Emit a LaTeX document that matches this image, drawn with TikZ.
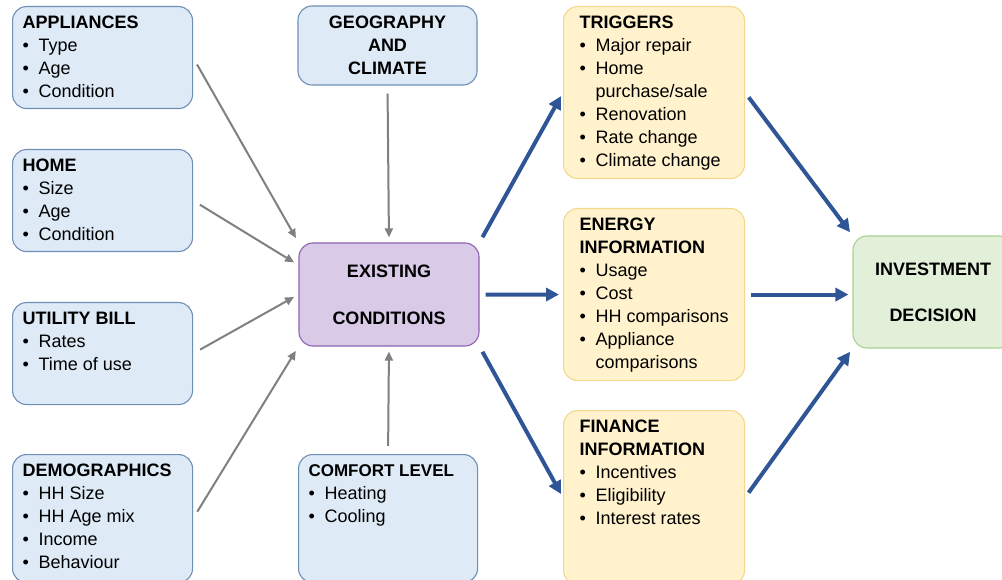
\documentclass[tikz,border=0pt]{standalone}
\usepackage{fontspec}
\setmainfont{Liberation Sans}
\usetikzlibrary{arrows.meta, positioning}

\definecolor{factorfill}{HTML}{DEEBF7}
\definecolor{factorline}{HTML}{6F8FB6}
\definecolor{statefill}{HTML}{D9CAE8}
\definecolor{stateline}{HTML}{8E62B0}
\definecolor{infofill}{HTML}{FFF2CC}
\definecolor{infoline}{HTML}{F3D98E}
\definecolor{decfill}{HTML}{E2F0D9}
\definecolor{decline}{HTML}{A9D18E}
\definecolor{flowblue}{HTML}{2F5597}
\definecolor{flowgray}{HTML}{808080}

\newcommand{\itemline}[1]{\makebox[16pt][l]{\textbullet}#1}
\newcommand{\boxbody}[4][0pt]{\parbox[c][#3][t]{#2}{\leftskip=#1\relax\strut#4}}

\tikzset{
	box/.style = {rounded corners=14pt, line width=1.1pt, inner ysep=6pt, anchor=north west,
		font=\fontsize{18}{23}\selectfont},
	factor/.style = {box, draw=factorline, fill=factorfill, inner xsep=10pt},
	info/.style = {box, draw=infoline, fill=infofill, inner xsep=8pt},
	centerbox/.style = {box, anchor=center, align=center, inner sep=0pt},
	state/.style = {centerbox, draw=stateline, fill=statefill},
	decision/.style = {centerbox, draw=decline, fill=decfill},
	grayflow/.style = {draw=flowgray, line width=2pt, -{Triangle[length=9pt, width=8pt]},
		shorten <=8pt, shorten >=5pt},
	blueflow/.style = {draw=flowblue, line width=4pt, -{Triangle[length=13pt, width=13pt]},
		shorten <=6pt, shorten >=4pt}
}

\begin{document}
\begin{tikzpicture}[x=1pt, y=-1pt]
	\useasboundingbox (0,0) rectangle (1002,580);

	% influencing factors
	\node[factor] (appl) at (12,6) {\boxbody{160pt}{90pt}{\textbf{APPLIANCES}\\
		\itemline{Type}\\ \itemline{Age}\\ \itemline{Condition}}};
	\node[factor] (home) at (12,149) {\boxbody{160pt}{90pt}{\textbf{HOME}\\
		\itemline{Size}\\ \itemline{Age}\\ \itemline{Condition}}};
	\node[factor] (util) at (12,302) {\boxbody{160pt}{90pt}{\textbf{UTILITY BILL}\\
		\itemline{Rates}\\ \itemline{Time of use}}};
	\node[factor] (demo) at (12,454) {\boxbody{160pt}{116pt}{\textbf{DEMOGRAPHICS}\\
		\itemline{HH Size}\\ \itemline{HH Age mix}\\ \itemline{Income}\\ \itemline{Behaviour}}};
	\node[factor] (comfort) at (298,454) {\boxbody{159pt}{116pt}{{\fontsize{17}{23}\selectfont\textbf{COMFORT LEVEL}}\\
		\itemline{Heating}\\ \itemline{Cooling}}};
	\node[factor, centerbox, minimum width=179pt, minimum height=79pt] (geo) at (387.5,45.5)
		{\fontsize{18}{24}\selectfont\textbf{GEOGRAPHY}\\ \textbf{AND}\\ \textbf{CLIMATE}};

	\node[state, minimum width=180pt, minimum height=103pt] (exist) at (389,294.5)
		{\textbf{EXISTING}\\[24pt] \textbf{CONDITIONS}};

	% information
	\node[info] (trig) at (563,6) {\boxbody[8pt]{165pt}{160pt}{\textbf{TRIGGERS}\\
		\itemline{Major repair}\\ \itemline{Home}\\ \hspace*{16pt}purchase/sale\\
		\itemline{Renovation}\\ \itemline{Rate change}\\ \itemline{Climate change}}};
	\node[info] (energy) at (563,208) {\boxbody[8pt]{165pt}{160pt}{\textbf{ENERGY}\\ \textbf{INFORMATION}\\
		\itemline{Usage}\\ \itemline{Cost}\\ \itemline{HH comparisons}\\
		\itemline{Appliance}\\ \hspace*{16pt}comparisons}};
	\node[info] (finance) at (563,410) {\boxbody[8pt]{165pt}{162pt}{\textbf{FINANCE}\\ \textbf{INFORMATION}\\
		\itemline{Incentives}\\ \itemline{Eligibility}\\ \itemline{Interest rates}}};

	\node[decision, minimum width=160pt, minimum height=112pt] (invest) at (933,292)
		{\textbf{INVESTMENT}\\[23pt] \textbf{DECISION}};

	\draw[grayflow] (appl.east) -- (exist.north west);
	\draw[grayflow] (home.east) -- (exist.162);
	\draw[grayflow] (util.east) -- (exist.west);
	\draw[grayflow] (demo.east) -- (exist.south west);
	\draw[grayflow] (geo.south) -- (exist.north);
	\draw[grayflow] (comfort.north) -- (exist.south);

	\draw[blueflow] (exist.north east) -- (trig.west);
	\draw[blueflow] (exist.east) -- (energy.west);
	\draw[blueflow] (exist.south east) -- (finance.west);
	\draw[blueflow] (trig.east) -- (invest.north west);
	\draw[blueflow] (energy.east) -- (energy.east -| invest.west);
	\draw[blueflow] (finance.east) -- (invest.south west);
\end{tikzpicture}
\end{document}
